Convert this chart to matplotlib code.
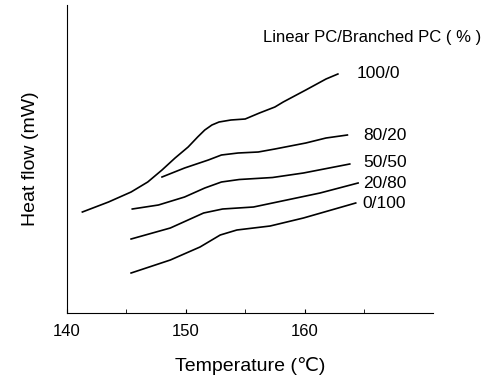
import matplotlib.pyplot as plt

plt.rcParams['font.family'] = ['Liberation Sans', 'DejaVu Sans']

# DSC curves (heat flow in arbitrary units)
t_100_0 = [141.3, 143.5, 145.4, 146.8, 148.0, 149.1, 150.2, 151.0, 151.6, 152.2, 152.8,
           153.8, 155.0, 156.2, 157.5, 158.2, 160.1, 161.8, 162.8]
h_100_0 = [101, 111, 121, 131, 143, 155, 166, 176, 183, 188, 191,
           193, 194, 200, 206, 211, 223, 234, 239]

t_80_20 = [148.0, 149.9, 151.9, 153.0, 154.4, 156.1, 157.5, 160.1, 161.8, 163.6]
h_80_20 = [136, 145, 153, 158, 160, 161, 164, 170, 175, 178]

t_50_50 = [145.5, 147.7, 149.9, 151.6, 153.0, 154.5, 157.3, 159.9, 163.8]
h_50_50 = [104, 108, 116, 125, 131, 133.5, 135.5, 140, 149]

t_20_80 = [145.4, 148.7, 151.5, 153.1, 155.7, 158.5, 161.3, 164.5]
h_20_80 = [74, 85, 100, 104, 106, 113, 120, 130]

t_0_100 = [145.4, 148.7, 151.2, 152.9, 154.3, 157.1, 159.9, 164.3]
h_0_100 = [40, 53, 66, 78, 83, 87, 95, 110]

labels = ['100/0', '80/20', '50/50', '20/80', '0/100']
label_y = [240, 178, 151, 130, 110]
label_x = [164.4, 164.9, 164.9, 164.9, 164.9]

fig = plt.figure(figsize=(4.92, 3.85), dpi=100)
ax = fig.add_axes([0.136, 0.187, 0.744, 0.80])

series = [(t_100_0, h_100_0), (t_80_20, h_80_20), (t_50_50, h_50_50),
          (t_20_80, h_20_80), (t_0_100, h_0_100)]
for t, h in series:
    ax.plot(t, h, color='black', lw=1.2, solid_joinstyle='round')

for lab, x, y in zip(labels, label_x, label_y):
    ax.text(x, y, lab, fontsize=12.5, va='center', ha='left')

ax.text(156.5, 276, 'Linear PC/Branched PC ( % )', fontsize=12, va='center', ha='left')

ax.set_xlim(140, 170.8)
ax.set_ylim(0, 308)
ax.spines['top'].set_visible(False)
ax.spines['right'].set_visible(False)
ax.set_xticks([140, 150, 160])
ax.set_xticks([145, 155, 165], minor=True)
ax.set_yticks([])
ax.tick_params(axis='x', which='both', direction='in', length=3, labelsize=12, pad=8)
ax.set_xlabel('Temperature (℃)', fontsize=14, labelpad=13)
ax.set_ylabel('Heat flow (mW)', fontsize=14, labelpad=20)

fig.savefig('out.png', dpi=100)
